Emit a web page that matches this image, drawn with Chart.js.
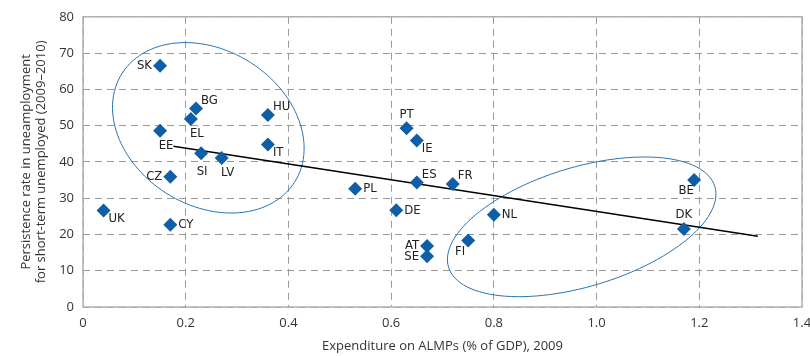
<!DOCTYPE html>
<html>
<head>
<meta charset="utf-8">
<script src="https://cdn.jsdelivr.net/npm/chart.js@4.4.1/dist/chart.umd.min.js"></script>
<style>
  html, body { margin: 0; padding: 0; background: #fff; }
  #wrap { width: 810px; height: 356px; }
</style>
</head>
<body>
<div id="wrap"><canvas id="almpChart"></canvas></div>
<script>
// countries and their values
const countries = ['SK', 'BG', 'EL', 'HU', 'EE', 'IT', 'SI', 'LV', 'CZ', 'UK', 'CY', 'PL',
  'PT', 'IE', 'ES', 'FR', 'DE', 'NL', 'AT', 'SE', 'FI', 'BE', 'DK'];
const almpSpend = [0.15, 0.22, 0.21, 0.36, 0.15, 0.36, 0.23, 0.27, 0.17, 0.04, 0.17, 0.53,
  0.63, 0.65, 0.65, 0.72, 0.61, 0.80, 0.67, 0.67, 0.75, 1.19, 1.17];
const persistence = [66.5, 54.7, 51.8, 52.9, 48.6, 44.8, 42.4, 41.1, 35.9, 26.6, 22.7, 32.6,
  49.3, 45.9, 34.3, 33.9, 26.7, 25.4, 16.8, 14.0, 18.3, 35.0, 21.5];

// trend line end points
const trendX = [0.176, 1.314];
const trendY = [44.3, 19.5];

// ellipses: centre and two conjugate semi-axes, all in data units
const ellipseCentres = [[0.244, 49.4], [0.971, 22.1]];
const ellipseAxisU = [[0.1675, -15.1], [0.2592, 11.15]];
const ellipseAxisV = [[-0.0822, -18.0], [0.0341, -15.7]];

const xTicks = [0, 0.2, 0.4, 0.6, 0.8, 1.0, 1.2, 1.4];
const yTicks = [0, 10, 20, 30, 40, 50, 60, 70, 80];

// where each label sits relative to its marker
const labelSide = ['l', 'ur', 'br', 'ur', 'br', 'lr', 'b', 'br', 'l', 'lr', 'r', 'r',
  't', 'lr', 'ur', 'ur', 'r', 'r', 'l', 'l', 'bl', 'bl', 't'];

const blue = '#0f5fa6';
const frameColor = '#b0b0b0';
const gridColor = '#9a9a9a';

const ellipsePlugin = {
  id: 'ellipses',
  beforeDatasetsDraw(chart) {
    const { ctx, scales: { x, y } } = chart;
    ctx.save();
    ctx.strokeStyle = '#2a73b4';
    ctx.lineWidth = 1;
    ellipseCentres.forEach((c, i) => {
      const u = ellipseAxisU[i], v = ellipseAxisV[i];
      ctx.beginPath();
      for (let k = 0; k <= 120; k++) {
        const t = k / 120 * Math.PI * 2;
        const px = x.getPixelForValue(c[0] + u[0] * Math.cos(t) + v[0] * Math.sin(t));
        const py = y.getPixelForValue(c[1] + u[1] * Math.cos(t) + v[1] * Math.sin(t));
        if (k === 0) ctx.moveTo(px, py); else ctx.lineTo(px, py);
      }
      ctx.closePath();
      ctx.stroke();
    });
    ctx.restore();
  },
  afterDraw(chart) {
    const { ctx, chartArea: a } = chart;
    ctx.save();
    ctx.strokeStyle = frameColor;
    ctx.lineWidth = 1.5;
    ctx.strokeRect(a.left, a.top, a.right - a.left, a.bottom - a.top);
    ctx.restore();
  }
};

const labelPlugin = {
  id: 'pointLabels',
  afterDatasetsDraw(chart) {
    const { ctx } = chart;
    const meta = chart.getDatasetMeta(0);
    ctx.save();
    ctx.font = '13px "Liberation Sans Narrow", "DejaVu Sans Condensed", sans-serif';
    ctx.fillStyle = '#222';
    meta.data.forEach((pt, i) => {
      const side = labelSide[i];
      let dx = 0, dy = 0, align = 'center';
      if (side === 'l') { dx = -8; align = 'right'; }
      else if (side === 'r') { dx = 8; align = 'left'; }
      else if (side === 't') { dy = -14; }
      else if (side === 'b') { dx = 1; dy = 18; }
      else if (side === 'br') { dx = 6; dy = 15; }
      else if (side === 'ur') { dx = 5; dy = -8; align = 'left'; }
      else if (side === 'lr') { dx = 5; dy = 8; align = 'left'; }
      else if (side === 'bl') { dx = -8; dy = 11; }
      ctx.textAlign = align;
      ctx.textBaseline = 'middle';
      ctx.fillText(countries[i], pt.x + dx, pt.y + dy);
    });
    ctx.restore();
  }
};

const tickFont = { family: '"Open Sans", sans-serif', size: 13 };

new Chart(document.getElementById('almpChart'), {
  type: 'scatter',
  data: {
    datasets: [{
      label: 'Countries',
      data: countries.map((c, i) => ({ x: almpSpend[i], y: persistence[i] })),
      pointStyle: 'rectRot',
      pointRadius: 7,
      backgroundColor: blue,
      borderColor: blue,
      borderWidth: 0,
      order: 1
    }, {
      type: 'line',
      label: 'Trend',
      data: trendX.map((x, i) => ({ x: x, y: trendY[i] })),
      borderColor: '#000',
      borderWidth: 1.5,
      pointRadius: 0,
      fill: false,
      order: 2
    }]
  },
  options: {
    responsive: true,
    maintainAspectRatio: false,
    animation: false,
    layout: { padding: { top: 15, right: 0, left: 0, bottom: 0 } },
    plugins: {
      legend: { display: false },
      tooltip: { enabled: false }
    },
    scales: {
      x: {
        type: 'linear',
        min: 0,
        max: 1.4,
        afterBuildTicks: (s) => { s.ticks = xTicks.map(v => ({ value: v })); },
        afterFit: (s) => { s.height = 49; s.paddingRight = 8; s.paddingLeft = 0; },
        ticks: {
          color: '#333',
          font: tickFont,
          padding: 8,
          maxRotation: 0,
          callback: (v) => v === 0 ? '0' : v.toFixed(1)
        },
        grid: { color: gridColor, drawTicks: false },
        border: { display: false, dash: [7, 5] },
        title: {
          display: true,
          text: 'Expenditure on ALMPs (% of GDP), 2009',
          color: '#333',
          font: tickFont,
          padding: { top: 0, bottom: 2 }
        }
      },
      y: {
        min: 0,
        max: 80,
        afterBuildTicks: (s) => { s.ticks = yTicks.map(v => ({ value: v })); },
        afterFit: (s) => { s.width = 83; },
        ticks: { color: '#333', font: tickFont, padding: 9 },
        grid: { color: gridColor, drawTicks: false },
        border: { display: false, dash: [7, 5] },
        title: {
          display: true,
          text: ['Persistence rate in uneamployment', 'for short-term unemployed (2009\u20132010)'],
          color: '#333',
          font: tickFont,
          padding: { top: 18, bottom: 0 }
        }
      }
    }
  },
  plugins: [ellipsePlugin, labelPlugin]
});
</script>
</body>
</html>
